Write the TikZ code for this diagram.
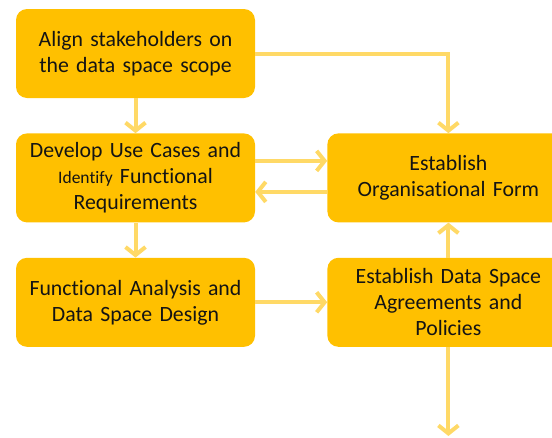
\documentclass[tikz,border=0pt]{standalone}
\usepackage{fontspec}
\setmainfont{Carlito}[Ligatures=NoCommon]
\usepackage{tikz}
\usetikzlibrary{positioning, arrows.meta}
\definecolor{boxgold}{HTML}{FFC000}
\definecolor{linkgold}{HTML}{FFD966}

\begin{document}
\begin{tikzpicture}[x=1pt, y=-1pt]
\tikzset{
phase/.style={fill=boxgold, rounded corners=11pt, minimum width=239pt, minimum height=89pt, text width=232pt, align=center, text=black!92, font=\fontsize{21.8}{26}\selectfont}, % the gold step boxes
link/.style={draw=linkgold, line width=4pt, -{Straight Barb[length=8pt, width=20pt, line width=4pt]}}, % the pale arrows
node distance=35pt and 72pt, % gaps between the boxes
}
	\useasboundingbox (0,0) rectangle (552,437);
	\node[phase] (align) at (135.5,53.5) {Align stakeholders on\\the data space scope};
	\node[phase, below=of align] (usecases) {Develop Use Cases and\\{\fontsize{17.5}{26}\selectfont Identify} Functional\\Requirements};
	\node[phase, below=of usecases] (analysis) {Functional Analysis and\\Data Space Design};
	\node[phase, right=of usecases, minimum width=242pt] (orgform) {Establish\\Organisational Form};
	\node[phase, right=of analysis, minimum width=242pt] (policies) {Establish Data Space\\Agreements and\\Policies};
	\coordinate (out) at (policies.south |- 0,436);
	
	\draw[link] (align) -- (usecases);
	\draw[link] (usecases) -- (analysis);
	\draw[link] (align.east) -| (orgform.north);
	\draw[link] ([yshift=17pt]usecases.east) -- ([yshift=17pt]orgform.west);
	\draw[link] ([yshift=-14pt]orgform.west) -- ([yshift=-14pt]usecases.east);
	\draw[link] (analysis) -- (policies);
	\draw[link] (policies) -- (orgform);
	\draw[link] (policies) -- (out);
\end{tikzpicture}
\end{document}
